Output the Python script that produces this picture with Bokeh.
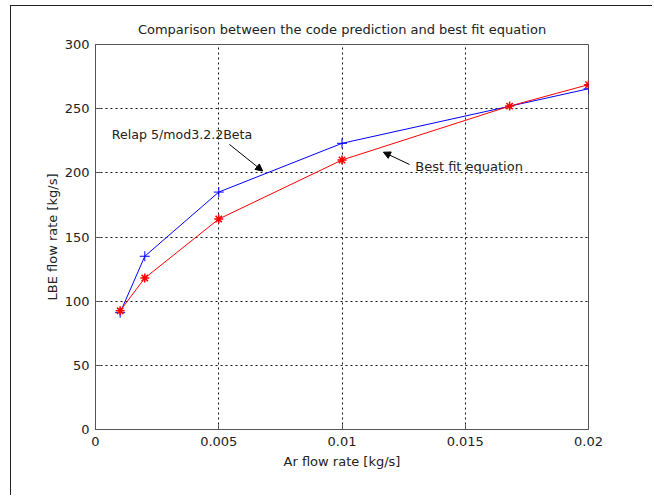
from bokeh.plotting import figure
from bokeh.models import FixedTicker, Arrow, NormalHead, Label, Range1d
from bokeh.embed import file_html
from bokeh.resources import INLINE

# ---- data ----
code_x = [0.001, 0.002, 0.005, 0.01, 0.02]
code_y = [91, 135, 185, 223, 265.5]
fit_x = [0.001, 0.002, 0.005, 0.01, 0.0168, 0.02]
fit_y = [92.5, 118, 164, 210, 252, 268.7]
x_ticks = [0, 0.005, 0.01, 0.015, 0.02]
x_tick_labels = ["0", "0.005", "0.01", "0.015", "0.02"]
y_ticks = [0, 50, 100, 150, 200, 250, 300]
y_tick_labels = ["0", "50", "100", "150", "200", "250", "300"]

FONT = "DejaVu Sans"
TXT = "#222222"
AX = "#555555"

p = figure(width=642, height=490,
           x_range=Range1d(0, 0.02), y_range=Range1d(0, 300),
           output_backend="svg", toolbar_location=None,
           min_border_left=84, min_border_right=65,
           min_border_top=38, min_border_bottom=67,
           title="Comparison between the code prediction and best fit equation")
p.margin = (5, 0, 0, 10)
p.styles = {"border-left": "1px solid #222", "border-top": "1px solid #222"}

p.background_fill_color = "white"
p.border_fill_color = "white"
p.outline_line_color = AX
p.outline_line_width = 1

p.title.align = "center"
p.title.text_font = FONT
p.title.text_font_size = "13px"
p.title.text_font_style = "normal"
p.title.text_color = TXT
p.title.standoff = 15

for ax, ticks, labels in ((p.xaxis[0], x_ticks, x_tick_labels), (p.yaxis[0], y_ticks, y_tick_labels)):
    ax.ticker = FixedTicker(ticks=ticks)
    ax.major_label_overrides = {t: l for t, l in zip(ticks, labels)}
    ax.major_tick_in = 5
    ax.major_tick_out = 0
    ax.minor_tick_line_color = None
    ax.axis_line_color = AX
    ax.major_tick_line_color = AX
    ax.major_label_text_font = FONT
    ax.major_label_text_font_size = "13px"
    ax.major_label_text_color = TXT
    ax.axis_label_text_font = FONT
    ax.axis_label_text_font_size = "13px"
    ax.axis_label_text_font_style = "normal"
    ax.axis_label_text_color = TXT

p.xaxis[0].axis_label = "Ar flow rate [kg/s]"
p.yaxis[0].axis_label = "LBE flow rate [kg/s]"
p.xaxis[0].major_label_standoff = 7
p.xaxis[0].axis_label_standoff = 5
p.yaxis[0].major_label_standoff = 6
p.yaxis[0].axis_label_standoff = 2

for g, ticks in ((p.xgrid[0], x_ticks), (p.ygrid[0], y_ticks)):
    g.ticker = FixedTicker(ticks=ticks)
    g.grid_line_color = "#111111"
    g.grid_line_dash = "2 3"
    g.grid_line_width = 1

# series
p.line(code_x, code_y, line_color="#0000ff", line_width=1)
p.scatter(code_x, code_y, marker="cross", size=10, line_color="#0000ff", line_width=1)
p.line(fit_x, fit_y, line_color="#ff0000", line_width=1)
p.scatter(fit_x, fit_y, marker="asterisk", size=9, line_color="#ff0000", line_width=1.5)

# annotations
p.add_layout(Arrow(end=NormalHead(size=7, fill_color="black", line_color="black"),
                   x_start=0.00543, y_start=222.2, x_end=0.00678, y_end=201.4,
                   line_color="black", line_width=1))
p.add_layout(Arrow(end=NormalHead(size=7, fill_color="black", line_color="black"),
                   x_start=0.01274, y_start=206.5, x_end=0.01168, y_end=216.1,
                   line_color="black", line_width=1))
p.add_layout(Label(x=0.00066, y=229.6, text="Relap 5/mod3.2.2Beta", text_baseline="middle",
                   text_font=FONT, text_font_size="12.6px", text_color=TXT))
p.add_layout(Label(x=0.01297, y=204.9, text="Best fit equation", text_baseline="middle",
                   text_font=FONT, text_font_size="13px", text_color=TXT))

open("out.html", "w").write(file_html(p, INLINE))
